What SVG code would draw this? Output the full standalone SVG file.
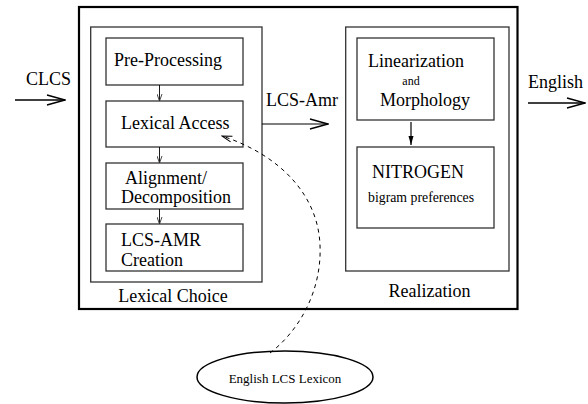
<svg xmlns="http://www.w3.org/2000/svg" width="588" height="404" viewBox="0 0 588 404" font-family="'Liberation Serif', 'Times New Roman', 'DejaVu Serif', serif">
<defs>
<style>
.box{fill:none;stroke:#333;stroke-width:1.3}
.outer{fill:none;stroke:#000;stroke-width:2.2}
text{font-family:'Liberation Serif','Times New Roman','DejaVu Serif',serif;fill:#000}
.ln{fill:none;stroke:#000}
</style>
<marker id="big" viewBox="0 0 20 12" refX="19" refY="6" markerWidth="20" markerHeight="12" markerUnits="userSpaceOnUse" orient="auto">
<path d="M1 1 L19 6 L1 11" fill="none" stroke="#000" stroke-width="1.5"/>
</marker>
<marker id="sm" viewBox="0 0 6 8" refX="3" refY="7.5" markerWidth="6" markerHeight="8" markerUnits="userSpaceOnUse" orient="0">
<path d="M0.5 0.5 L3 7.5 L5.5 0.5" fill="none" stroke="#333" stroke-width="0.9"/>
</marker>
<marker id="fl" viewBox="0 0 6 10" refX="3" refY="9.5" markerWidth="6" markerHeight="10" markerUnits="userSpaceOnUse" orient="0">
<path d="M0.5 0.5 L3 9.5 L5.5 0.5 Z" fill="#000"/>
</marker>
<marker id="da" viewBox="0 0 12 8" refX="11" refY="4" markerWidth="12" markerHeight="8" markerUnits="userSpaceOnUse" orient="auto">
<path d="M1 1 L11 4 L1 7" fill="none" stroke="#000" stroke-width="1"/>
</marker>
</defs>
<g id="system"><rect class="outer" x="79" y="7" width="438.5" height="302"/></g>
<g id="lexical-choice"><rect class="box" x="90.7" y="27" width="171.3" height="255"/><text x="173" y="302" font-size="18" text-anchor="middle">Lexical Choice</text></g>
<g id="pre-processing"><rect class="box" x="106" y="38" width="137" height="47"/><text x="114" y="66" font-size="18">Pre-Processing</text></g>
<g id="lexical-access"><rect class="box" x="106" y="101" width="137" height="46"/><text x="121" y="129" font-size="18">Lexical Access</text></g>
<g id="alignment"><rect class="box" x="106" y="163" width="137" height="46"/><text x="125" y="184" font-size="18">Alignment/</text><text x="121" y="203" font-size="18">Decomposition</text></g>
<g id="lcs-amr"><rect class="box" x="106" y="224" width="137" height="47"/><text x="121" y="246" font-size="18">LCS-AMR</text><text x="121" y="265.5" font-size="18">Creation</text></g>
<g id="realization"><rect class="box" x="345.7" y="27" width="163.3" height="244"/><text x="429.5" y="297" font-size="18" text-anchor="middle">Realization</text></g>
<g id="linearization"><rect class="box" x="357" y="38" width="137" height="82"/><text x="368" y="67" font-size="18">Linearization</text><text x="411" y="85" font-size="12" text-anchor="middle">and</text><text x="380" y="106" font-size="18">Morphology</text></g>
<g id="nitrogen"><rect class="box" x="357" y="147" width="137" height="81"/><text x="372" y="178" font-size="18">NITROGEN</text><text x="368" y="202" font-size="13.8">bigram preferences</text></g>
<g id="lexicon"><ellipse cx="285" cy="377" rx="88" ry="26" fill="none" stroke="#000" stroke-width="1.5"/><text x="285" y="383" font-size="13" text-anchor="middle">English LCS Lexicon</text></g>
<g id="labels">
<text x="26" y="85" font-size="18">CLCS</text>
<text x="266" y="106" font-size="18">LCS-Amr</text>
<text x="528" y="88" font-size="18">English</text>
</g>
<g id="connectors">
<line class="ln" x1="15" y1="100" x2="65" y2="100" stroke-width="1.5" marker-end="url(#big)"/>
<line class="ln" x1="528" y1="103" x2="585" y2="103" stroke-width="1.5" marker-end="url(#big)"/>
<line class="ln" x1="262" y1="124" x2="328" y2="124" stroke="#333" stroke-width="1.2" marker-end="url(#big)"/>
<line class="ln" x1="159.5" y1="85" x2="159.5" y2="101" stroke="#333" stroke-width="0.9" marker-end="url(#sm)"/>
<line class="ln" x1="159.5" y1="147" x2="159.5" y2="163" stroke="#333" stroke-width="0.9" marker-end="url(#sm)"/>
<line class="ln" x1="159.5" y1="209" x2="159.5" y2="224" stroke="#333" stroke-width="0.9" marker-end="url(#sm)"/>
<line class="ln" x1="411" y1="122" x2="411" y2="145" stroke-width="1.2" marker-end="url(#fl)"/>
<path class="ln" d="M270 353 C300 330 322 290 320 245 C318 195 280 155 222 136" stroke-width="1" stroke-dasharray="4,4" marker-end="url(#da)"/>
</g>
</svg>
